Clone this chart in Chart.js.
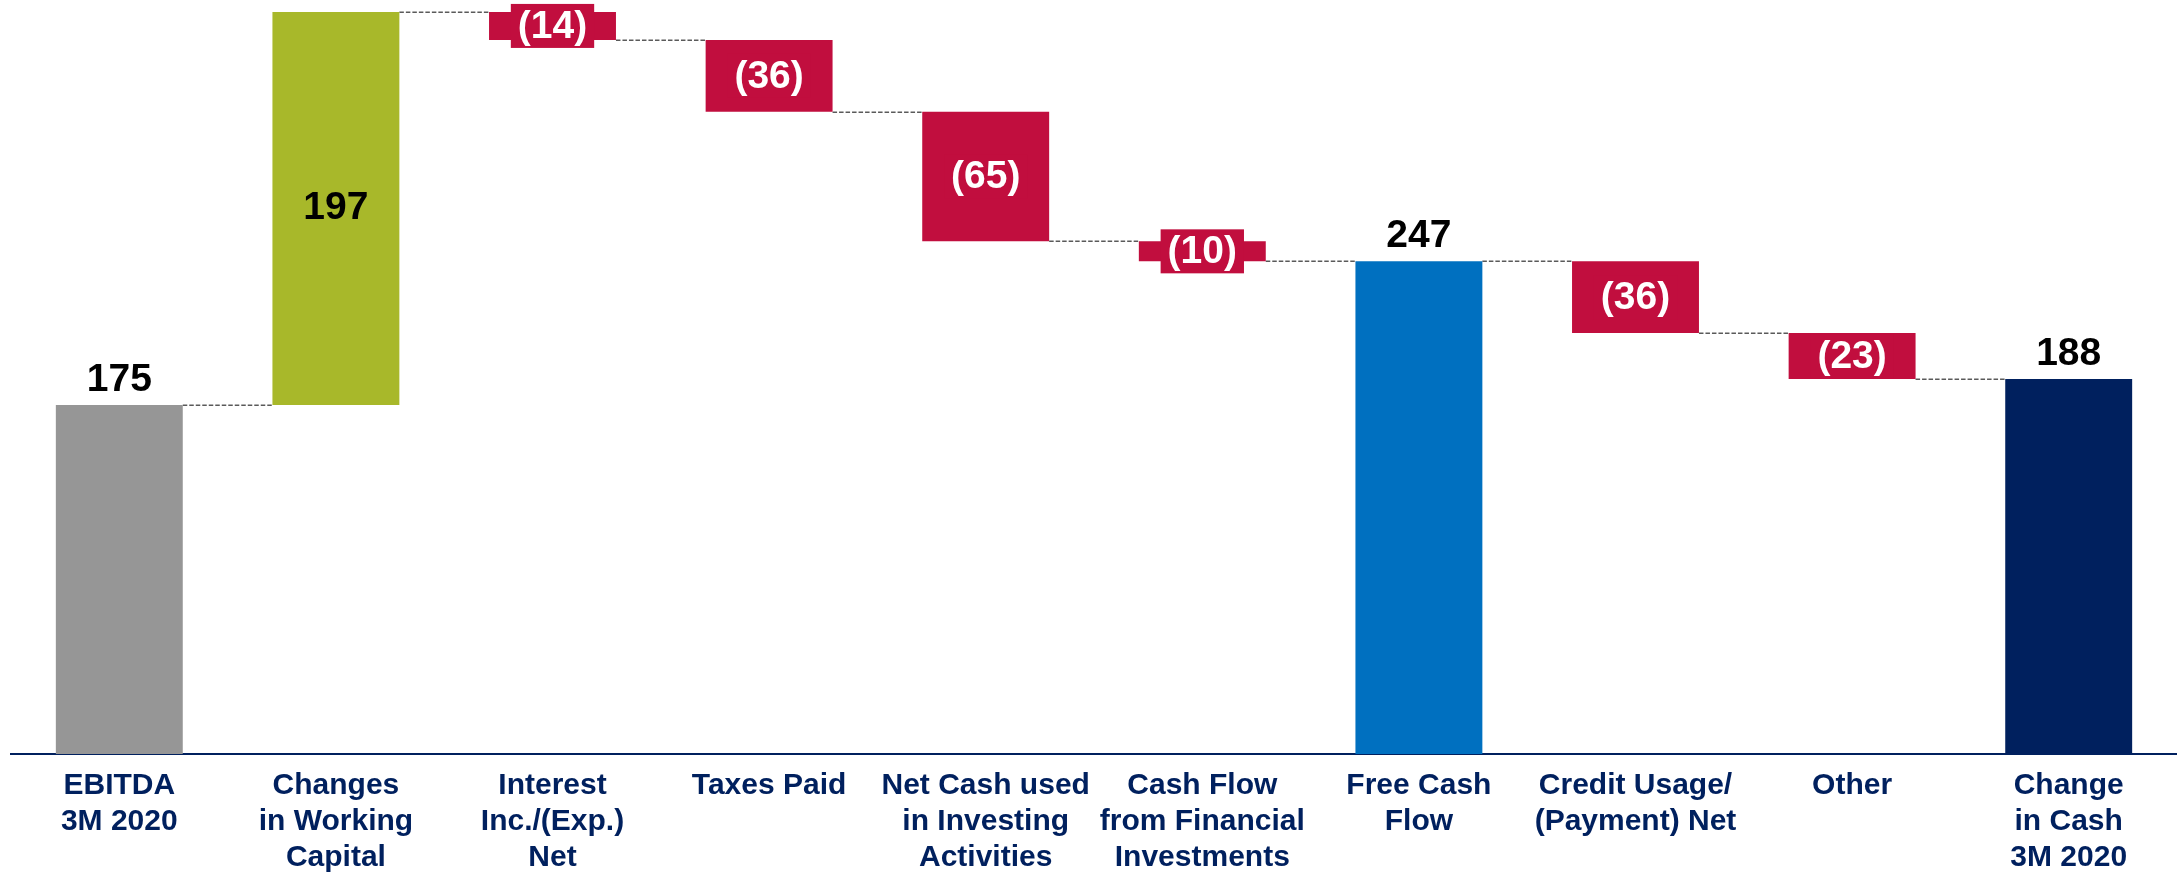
<!DOCTYPE html>
<html>
<head>
<meta charset="utf-8">
<script src="https://cdn.jsdelivr.net/npm/chart.js@4/dist/chart.umd.min.js"></script>
<style>
  html, body { margin: 0; padding: 0; background: #ffffff; }
  #wrap { width: 2177px; height: 874px; position: relative; }
</style>
</head>
<body>
<div id="wrap"><canvas id="c" width="2177" height="874"></canvas></div>
<script>
// ---- data ----
const categories = [
  ["EBITDA", "3M 2020"],
  ["Changes", "in Working", "Capital"],
  ["Interest", "Inc./(Exp.)", "Net"],
  ["Taxes Paid"],
  ["Net Cash used", "in Investing", "Activities"],
  ["Cash Flow", "from Financial", "Investments"],
  ["Free Cash", "Flow"],
  ["Credit Usage/", "(Payment) Net"],
  ["Other"],
  ["Change", "in Cash", "3M 2020"]
];
const values = [175, 197, -14, -36, -65, -10, 247, -36, -23, 188];
const kinds = ["total", "delta", "delta", "delta", "delta", "delta", "total", "delta", "delta", "total"];
const valueLabels = ["175", "197", "(14)", "(36)", "(65)", "(10)", "247", "(36)", "(23)", "188"];
const yTicks = { min: 0, max: 378 };

// ---- styles ----
const RED = "#C10E3E";
const barColors = ["#969696", "#A8B82A", RED, RED, RED, RED, "#0070C0", RED, RED, "#00205E"];
const NAVY = "#00205E";

// floating ranges built from values
let run = 0;
const ranges = values.map((v, i) => {
  if (kinds[i] === "total") { run = v; return [0, v]; }
  const start = run; run += v; return [start, run];
});
const levels = ranges.map(r => r[1]);

const waterfallPlugin = {
  id: "waterfall",
  beforeDatasetsDraw(chart) {
    const ctx = chart.ctx;
    const meta = chart.getDatasetMeta(0);
    const ys = chart.scales.y;
    ctx.save();
    ctx.strokeStyle = "#5a5a5a";
    ctx.lineWidth = 1.5;
    ctx.setLineDash([4.5, 2]);
    for (let i = 0; i < meta.data.length - 1; i++) {
      const a = meta.data[i], b = meta.data[i + 1];
      const y = Math.round(ys.getPixelForValue(levels[i])) + 0.25;
      ctx.beginPath();
      ctx.moveTo(a.x + a.width / 2, y);
      ctx.lineTo(b.x - b.width / 2, y);
      ctx.stroke();
    }
    ctx.restore();
  },
  afterDatasetsDraw(chart) {
    const ctx = chart.ctx;
    const meta = chart.getDatasetMeta(0);
    ctx.save();
    ctx.font = 'bold 39px "Liberation Sans", Arial, sans-serif';
    ctx.textAlign = "center";
    meta.data.forEach((el, i) => {
      const top = Math.min(el.y, el.base);
      const bottom = Math.max(el.y, el.base);
      const mid = (top + bottom) / 2;
      const txt = valueLabels[i];
      if (kinds[i] === "total") {
        ctx.fillStyle = "#000000";
        ctx.textBaseline = "alphabetic";
        ctx.fillText(txt, el.x, top - 14);
      } else if (values[i] >= 0) {
        ctx.fillStyle = "#000000";
        ctx.textBaseline = "middle";
        ctx.fillText(txt, el.x, mid);
      } else {
        const w = ctx.measureText(txt).width + 14;
        const h = 44;
        ctx.fillStyle = RED;
        ctx.fillRect(el.x - w / 2, mid - h / 2, w, h);
        ctx.fillStyle = "#ffffff";
        ctx.textBaseline = "middle";
        ctx.fillText(txt, el.x, mid + 1);
      }
    });
    ctx.restore();
  }
};

new Chart(document.getElementById("c"), {
  type: "bar",
  data: {
    labels: categories,
    datasets: [{
      data: ranges,
      backgroundColor: barColors,
      borderWidth: 0,
      barPercentage: 0.586,
      categoryPercentage: 1.0
    }]
  },
  options: {
    responsive: false,
    devicePixelRatio: 1,
    animation: false,
    layout: { padding: { left: 11, right: -3, top: 0, bottom: 0 } },
    plugins: { legend: { display: false }, tooltip: { enabled: false } },
    scales: {
      x: {
        grid: { display: false, drawTicks: false },
        border: { display: true, color: NAVY, width: 2 },
        ticks: {
          autoSkip: false,
          maxRotation: 0,
          minRotation: 0,
          padding: 14,
          color: NAVY,
          font: { family: '"Liberation Sans", Arial, sans-serif', size: 30, weight: "bold", lineHeight: 36 / 30 }
        },
        afterFit(scale) { scale.height = 120; }
      },
      y: {
        display: false,
        min: yTicks.min,
        max: yTicks.max,
        grid: { display: false }
      }
    }
  },
  plugins: [waterfallPlugin]
});
</script>
</body>
</html>
